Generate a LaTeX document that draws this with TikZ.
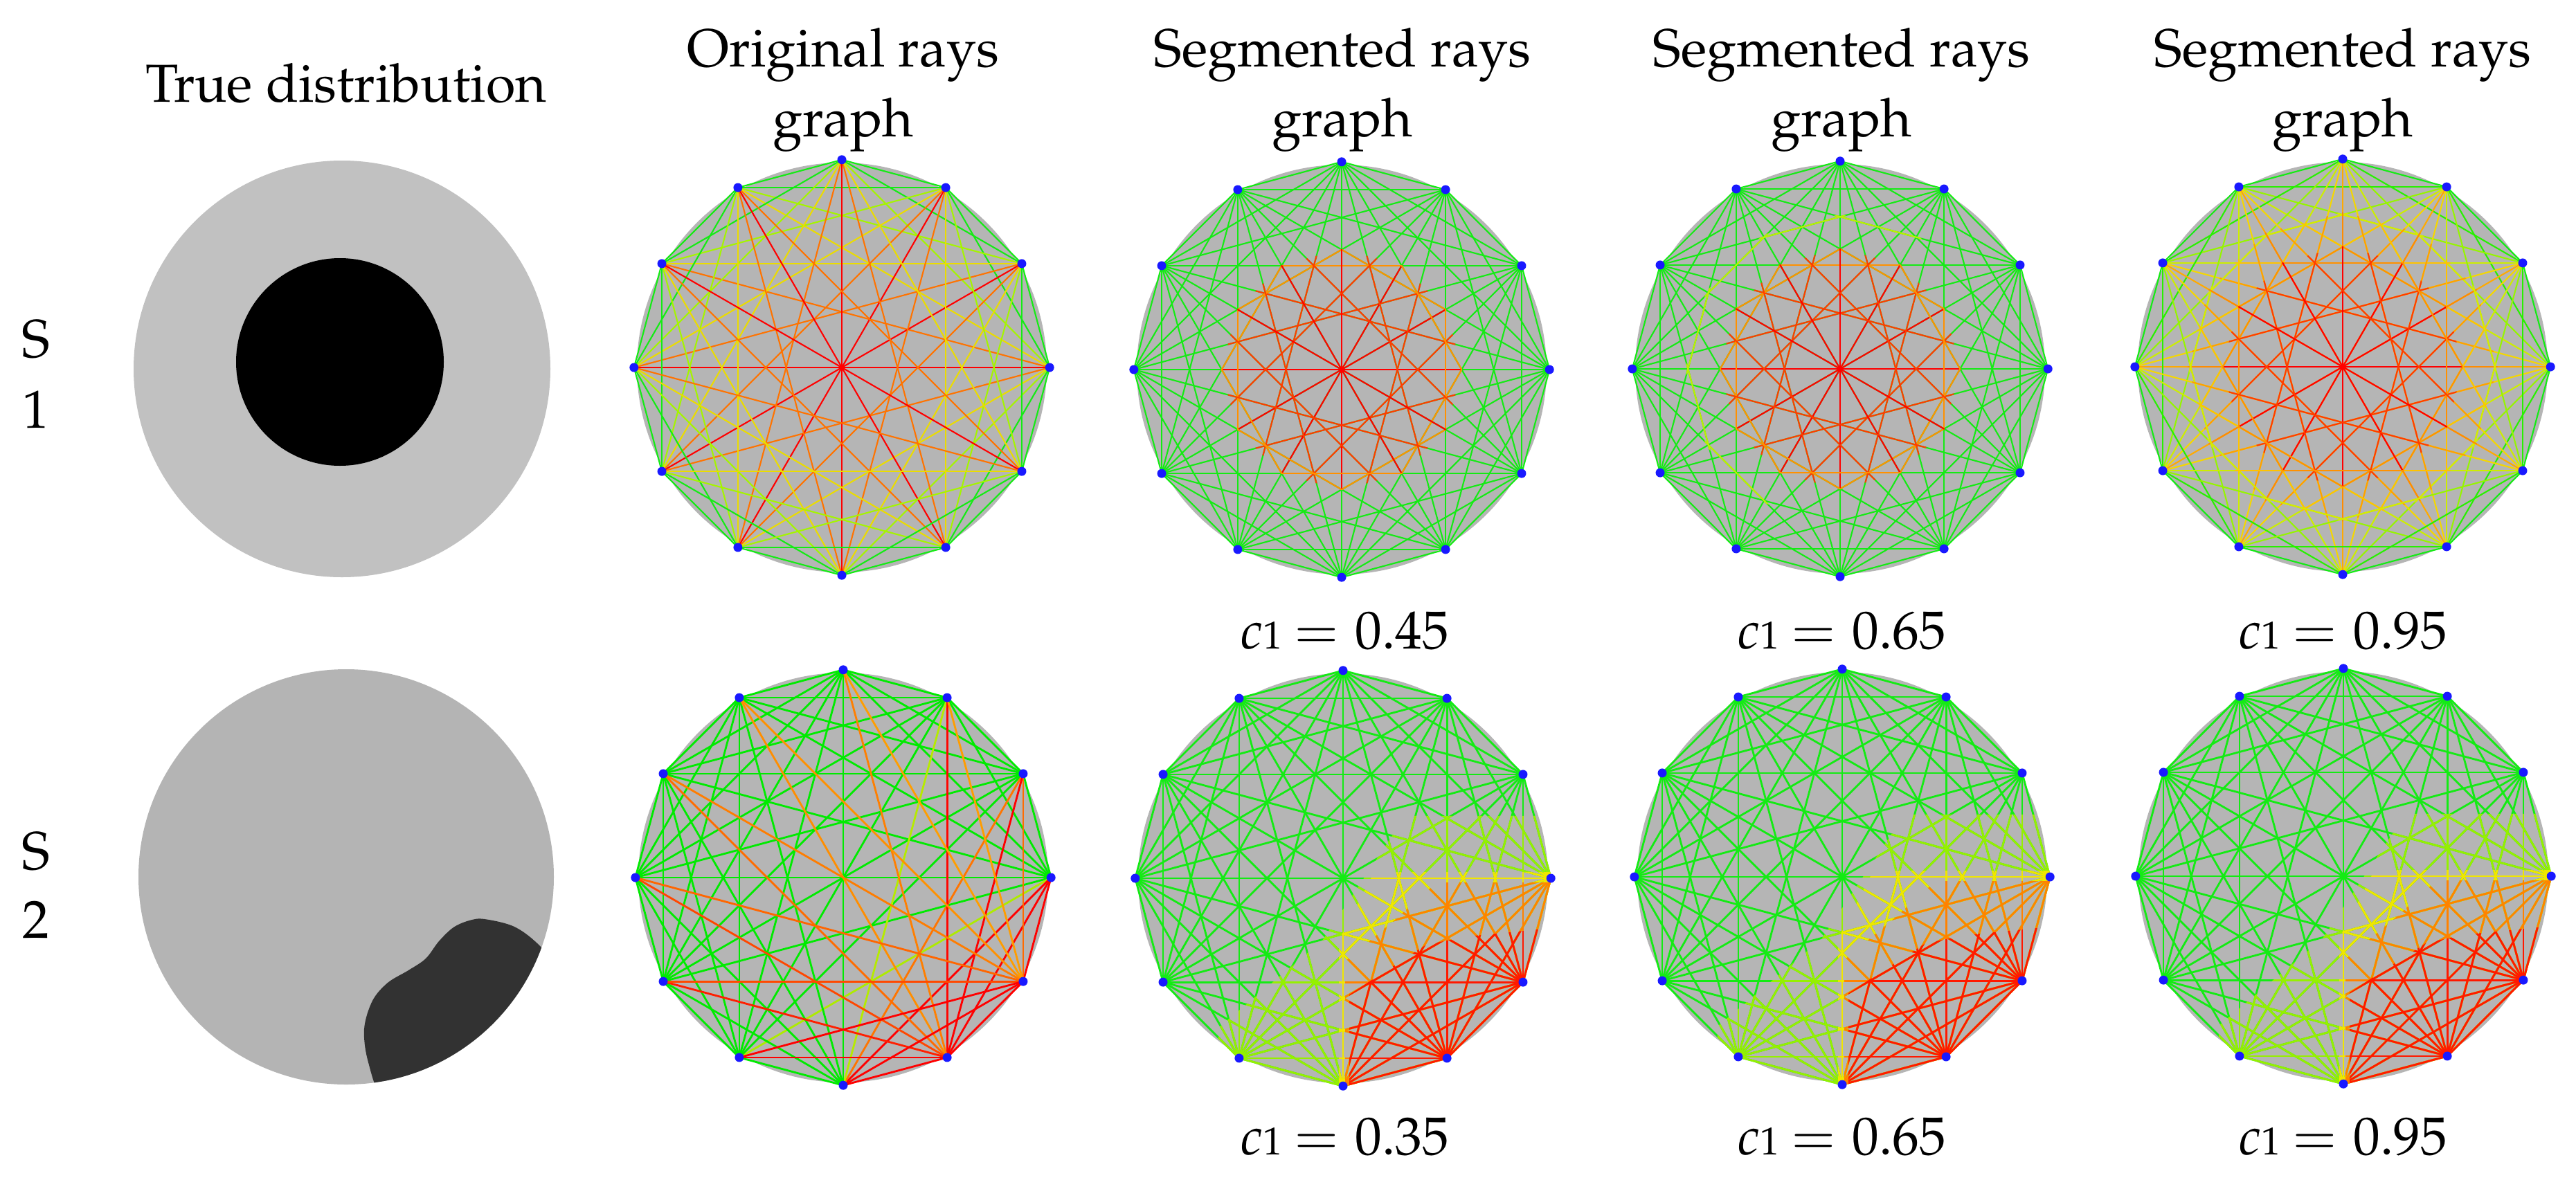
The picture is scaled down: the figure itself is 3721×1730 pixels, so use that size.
\documentclass[tikz,border=0pt]{standalone}
\usepackage[T1]{fontenc}
\usepackage{mathpazo}
\definecolor{dgray}{RGB}{181,181,181}
\definecolor{tgrayA}{RGB}{193,193,193}
\definecolor{tgrayB}{RGB}{180,180,180}
\definecolor{blobc}{RGB}{50,50,50}
\definecolor{vblue}{RGB}{25,25,255}
\definecolor{cg}{RGB}{20,235,20}
% all green
\colorlet{g1}{cg}\colorlet{g2}{cg}\colorlet{g3}{cg}\colorlet{g4}{cg}\colorlet{g5}{cg}\colorlet{g6}{cg}
% original S1
\colorlet{o1}{cg}\colorlet{o2}{cg}
\definecolor{o3}{RGB}{165,245,0}\definecolor{o4}{RGB}{235,220,0}
\definecolor{o5}{RGB}{255,115,0}\definecolor{o6}{RGB}{255,0,0}
% segmented inner
\colorlet{si1}{cg}\colorlet{si2}{cg}\colorlet{si3}{cg}
\definecolor{si4}{RGB}{255,145,0}\definecolor{si5}{RGB}{255,60,0}\definecolor{si6}{RGB}{255,0,0}
% col5 full
\colorlet{f1}{cg}\definecolor{f2}{RGB}{40,240,0}\definecolor{f3}{RGB}{150,245,0}
\definecolor{f4}{RGB}{205,238,0}\definecolor{f5}{RGB}{245,215,0}\definecolor{f6}{RGB}{255,170,0}
% col5 middle
\colorlet{m1}{cg}\definecolor{m2}{RGB}{110,245,0}\definecolor{m3}{RGB}{215,235,0}
\definecolor{m4}{RGB}{255,195,0}\definecolor{m5}{RGB}{255,160,0}\definecolor{m6}{RGB}{255,140,0}
\definecolor{yg}{RGB}{190,240,0}
% S2 segmented
\definecolor{s2yg}{RGB}{150,240,0}\definecolor{s2y}{RGB}{240,230,0}
\definecolor{s2o}{RGB}{255,130,0}\definecolor{s2r}{RGB}{255,25,0}

\newcommand\mkverts[3]{%
  \fill[dgray] (#2,#3) circle (296);
  \begin{scope}[shift={(#2,#3)},x=3cm,y=3cm]
    \foreach \k in {0,...,11}{\coordinate (#1-\k) at ({30*\k}:1);}
  \end{scope}}
\newcommand\kchords[3]{%
  \foreach \i in {0,...,10}{%
    \pgfmathtruncatemacro\js{\i+1}%
    \foreach \j in {\js,...,11}{%
      \pgfmathtruncatemacro\kk{min(\j-\i,12-\j+\i)}%
      \draw[#3,draw=#2\kk] (#1-\i) -- (#1-\j);
    }}}
\newcommand\colchords[3]{%
  \foreach \i in {0,...,10}{%
    \pgfmathtruncatemacro\js{\i+1}%
    \foreach \j in {\js,...,11}{%
      \draw[#3,draw=#2] (#1-\i) -- (#1-\j);
    }}}
\newcommand\onechords[4]{%
  \foreach \i/\j in {#4}{\draw[#3,draw=#2] (#1-\i) -- (#1-\j);}}
\newcommand\polyclip[1]{\clip (0:#1) -- (30:#1) -- (60:#1) -- (90:#1) -- (120:#1) -- (150:#1) -- (180:#1) -- (210:#1) -- (240:#1) -- (270:#1) -- (300:#1) -- (330:#1) -- cycle;}
\newcommand\mkdots[1]{\foreach \k in {0,...,11}{\node[vtx] (#1-v\k) at (#1-\k) {};}}
\newcommand\blobchords[2]{%
  \foreach \i in {0,...,10}{%
    \pgfmathtruncatemacro\js{\i+1}%
    \foreach \j in {\js,...,11}{%
      \pgfmathsetmacro\xa{cos(30*\i)}\pgfmathsetmacro\ya{sin(30*\i)}%
      \pgfmathsetmacro\xb{cos(30*\j)}\pgfmathsetmacro\yb{sin(30*\j)}%
      \pgfmathsetmacro\ddx{(\xb)-(\xa)}\pgfmathsetmacro\ddy{(\yb)-(\ya)}%
      \pgfmathsetmacro\clen{sqrt((\ddx)*(\ddx)+(\ddy)*(\ddy))}%
      \pgfmathsetmacro\dA{abs((\ddx)*(-0.47-(\ya))-(\ddy)*(0.65-(\xa)))/(\clen)}%
      \pgfmathsetmacro\dB{abs((\ddx)*(-0.75-(\ya))-(\ddy)*(0.3-(\xa)))/(\clen)}%
      \pgfmathsetmacro\LL{2*sqrt(max(0,0.0625-(\dA)*(\dA)))+2*sqrt(max(0,0.0625-(\dB)*(\dB)))}%
      \pgfmathsetmacro\vv{min(1,(\LL)/(\clen)/0.45)}%
      \pgfmathtruncatemacro\colR{min(255,255*(\vv)/0.35)}%
      \pgfmathtruncatemacro\colG{(\vv)<0.35 ? 235 : 235*(1-((\vv)-0.35)/0.65)*(1-((\vv)-0.35)/0.65)}%
      \definecolor{tmpc}{RGB}{\colR,\colG,0}%
      \draw[#2,draw=tmpc] (#1-\i) -- (#1-\j);
    }}}
\newcommand\segtwo[3]{%
  \mkverts{#1}{#2}{#3}%
  \colchords{#1}{cg}{chordb}%
  \begin{scope}[shift={(#2,#3)},x=3cm,y=3cm]
    \clip (-0.3,-0.55) rectangle (0.02,-0.45);
    \onechords{#1}{s2y}{chordb}{7/11}
  \end{scope}
  \begin{scope}[shift={(#2,#3)},x=3cm,y=3cm]
    \clip (-0.6,-1.2) -- (-0.6,-0.72) -- (-0.1,-0.3) -- (0.3,0.3) -- (1.2,0.3) -- (1.2,-1.2) -- cycle;
    \colchords{#1}{s2yg}{chordb}
    \clip (-0.02,-1.2) -- (-0.02,-0.3) -- (0.15,0.03) -- (1.2,0.03) -- (1.2,-1.2) -- cycle;
    \colchords{#1}{s2y}{chordb}
    \clip (0.01,-1.2) -- (0.01,-0.4) -- (0.25,-0.2) -- (0.45,-0.02) -- (1.2,-0.02) -- (1.2,-1.2) -- cycle;
    \colchords{#1}{s2o}{chordb}
    \clip (0.03,-1.2) -- (0.03,-0.56) -- (0.4,-0.32) -- (0.6,-0.28) -- (1.2,-0.22) -- (1.2,-1.2) -- cycle;
    \colchords{#1}{s2r}{chordb}
  \end{scope}
  \mkdots{#1}}
\newcommand\cval[1]{\(c\){\fontsize{16}{16}\selectfont 1}\hspace{0.22em}\(=\)\hspace{0.3em}#1}

\tikzset{
  vtx/.style={circle,fill=vblue,draw=none,inner sep=0pt,minimum size=0.13cm},
  chord/.style={line width=0.6pt},
  chordb/.style={line width=0.8pt},
  lbl/.style={font=\fontsize{22}{28}\selectfont,inner sep=0pt},
}

\begin{document}
\begin{tikzpicture}[x=0.01cm,y=-0.01cm]
\useasboundingbox (0,0) rectangle (3721,1730);
\fill[white] (0,0) rectangle (3721,1730);

% ---------- titles ----------
\node[lbl,anchor=base] (tTrue) at (500,147) {True distribution};
\node[lbl,anchor=base] (tOa) at (1218,97) {Original rays};
\node[lbl,anchor=base] (tOb) at (1218,197) {graph};
\node[lbl,anchor=base] (tAa) at (1939,97) {Segmented rays};
\node[lbl,anchor=base] (tAb) at (1939,197) {graph};
\node[lbl,anchor=base] (tBa) at (2660,97) {Segmented rays};
\node[lbl,anchor=base] (tBb) at (2660,197) {graph};
\node[lbl,anchor=base] (tCa) at (3384,97) {Segmented rays};
\node[lbl,anchor=base] (tCb) at (3384,197) {graph};

\node[lbl,anchor=base] (sOa) at (52,516) {S};
\node[lbl,anchor=base] (sOb) at (52,618) {1};
\node[lbl,anchor=base] (sTa) at (52,1256) {S};
\node[lbl,anchor=base] (sTb) at (52,1355) {2};

% ---------- true distributions ----------
\fill[tgrayA] (494,533) circle (301);
\fill[black] (491,523) circle (150);
\fill[tgrayB] (500,1267) circle (300);
\begin{scope}
  \clip (500,1267) circle (300);
  \fill[blobc] plot[smooth cycle, tension=0.55] coordinates {(700,1328) (745,1340) (785,1372) (830,1430) (760,1560) (620,1625) (555,1590) (532,1535) (526,1487) (538,1446) (560,1420) (590,1402) (615,1385) (634,1360) (655,1340) (678,1330)};
\end{scope}

% ---------- row 1 ----------
\mkverts{ga}{1216}{531}
\kchords{ga}{o}{chord}
\mkdots{ga}

\mkverts{gb}{1938}{534}
\kchords{gb}{g}{chord}
\begin{scope}[shift={(1938,534)},x=3cm,y=3cm]
  \polyclip{0.58}
  \kchords{gb}{si}{chord}
\end{scope}
\mkdots{gb}

\mkverts{gc}{2658}{533}
\kchords{gc}{g}{chord}
\begin{scope}[shift={(2658,533)},x=3cm,y=3cm]
  \polyclip{0.745}
  \onechords{gc}{yg}{chord}{1/4,2/5,3/6,4/7,5/8,6/9}
\end{scope}
\begin{scope}[shift={(2658,533)},x=3cm,y=3cm]
  \polyclip{0.58}
  \kchords{gc}{si}{chord}
\end{scope}
\mkdots{gc}

\mkverts{gd}{3384}{530}
\kchords{gd}{f}{chord}
\begin{scope}[shift={(3384,530)},x=3cm,y=3cm]
  \polyclip{0.745}
  \kchords{gd}{m}{chord}
\end{scope}
\begin{scope}[shift={(3384,530)},x=3cm,y=3cm]
  \polyclip{0.58}
  \kchords{gd}{si}{chord}
\end{scope}
\mkdots{gd}

% ---------- row 2 ----------
\mkverts{ge}{1218}{1268}
\blobchords{ge}{chordb}
\mkdots{ge}

\segtwo{gf}{1940}{1269}
\segtwo{gg}{2661}{1267}
\segtwo{gh}{3385}{1266}

% ---------- c1 labels ----------
\node[lbl,anchor=base] (cA) at (1942,937) {\cval{0.45}};
\node[lbl,anchor=base] (cB) at (2660,937) {\cval{0.65}};
\node[lbl,anchor=base] (cC) at (3384,937) {\cval{0.95}};
\node[lbl,anchor=base] (cD) at (1942,1668) {\cval{0.35}};
\node[lbl,anchor=base] (cE) at (2660,1668) {\cval{0.65}};
\node[lbl,anchor=base] (cF) at (3384,1668) {\cval{0.95}};
\end{tikzpicture}
\end{document}
